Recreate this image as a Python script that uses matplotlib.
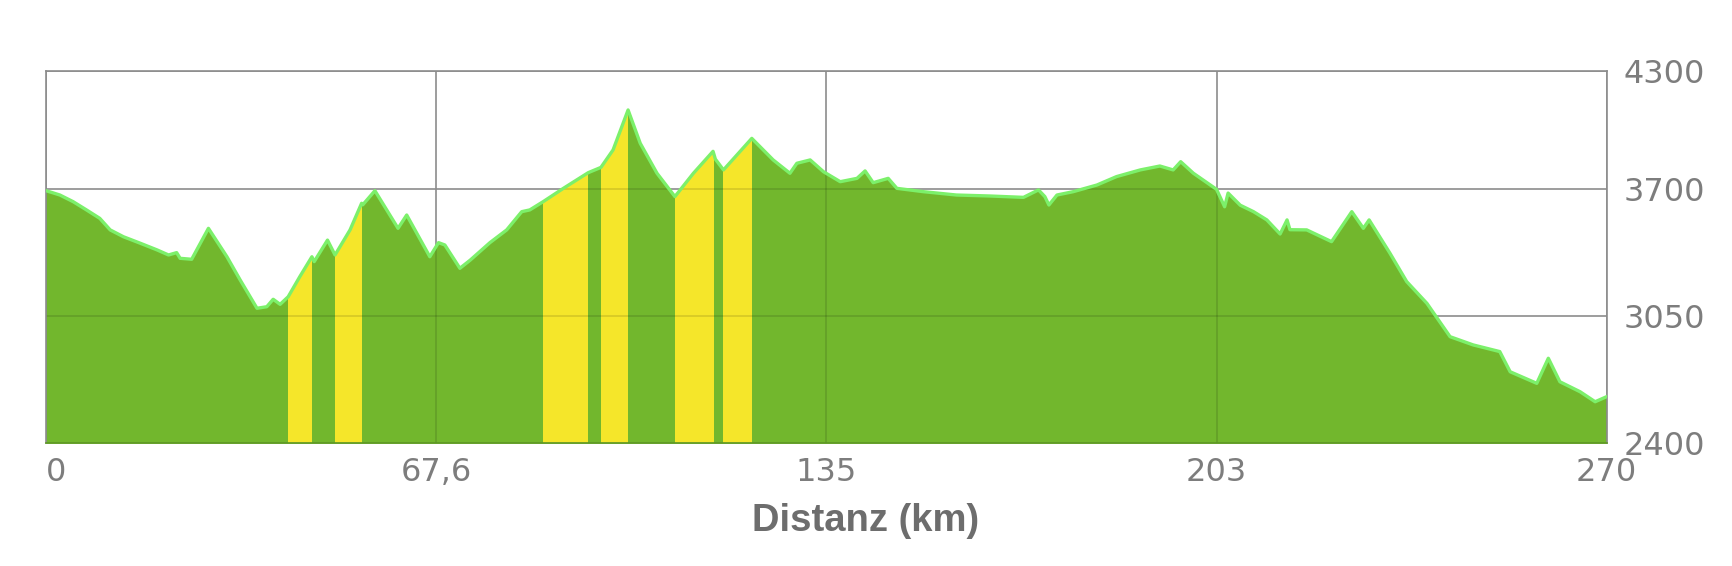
import numpy as np
import matplotlib.pyplot as plt

# elevation profile
km = [0, 1.0, 2.4, 4.7, 7.0, 9.3, 11.1, 13.4, 16.3, 19.2, 21.2, 22.6, 23.2, 25.2,
      28.1, 31.3, 33.6, 36.5, 38.2, 39.3, 40.5, 41.9, 43.9, 46.0, 46.4, 48.7,
      50.0, 52.6, 54.6, 54.8, 56.9, 60.9, 62.4, 66.4, 67.9, 69.0, 71.6, 73.4,
      76.8, 79.7, 82.3, 83.7, 86.0, 89.5, 93.8, 96.0, 98.1, 100.7, 102.8, 105.7,
      108.8, 112.0, 115.4, 115.8, 117.2, 122.1, 125.8, 128.7, 129.9, 132.2,
      134.5, 137.4, 140.3, 141.7, 143.1, 145.7, 147.2, 151.8, 157.5, 163.3,
      169.1, 171.7, 172.8, 173.5, 174.9, 177.7, 181.8, 185.2, 189.3, 192.7,
      195.0, 196.3, 198.5, 202.5, 203.9, 204.5, 206.6, 208.9, 211.2, 213.5,
      214.7, 215.2, 218.1, 222.4, 225.9, 227.9, 228.9, 232.5, 235.4, 238.9,
      242.9, 246.9, 251.5, 253.3, 257.9, 259.9, 261.9, 265.4, 268.0, 270]
elev = [3689, 3680, 3667, 3633, 3591, 3548, 3489, 3454, 3421, 3387, 3361, 3373,
        3344, 3339, 3497, 3352, 3233, 3089, 3097, 3135, 3109, 3148, 3250, 3352,
        3327, 3437, 3361, 3489, 3625, 3617, 3689, 3497, 3565, 3352, 3424, 3412,
        3293, 3335, 3424, 3489, 3582, 3591, 3633, 3701, 3781, 3808, 3897, 4101,
        3931, 3778, 3659, 3778, 3890, 3850, 3795, 3956, 3846, 3778, 3829, 3846,
        3786, 3735, 3752, 3790, 3730, 3752, 3701, 3684, 3667, 3662, 3655, 3693,
        3659, 3616, 3667, 3684, 3718, 3761, 3795, 3815, 3795, 3837, 3778, 3696,
        3607, 3677, 3615, 3582, 3540, 3468, 3540, 3490, 3489, 3429, 3582, 3497,
        3540, 3370, 3225, 3114, 2944, 2902, 2868, 2765, 2706, 2834, 2714, 2663,
        2612, 2638]

# highlighted (steep) sections, km from / to
band_start = [41.9, 50.0, 86.0, 96.0, 108.8, 117.2]
band_end = [46.0, 54.6, 93.8, 100.7, 115.5, 122.1]

xticks = [0, 67.5, 135, 202.5, 270]
xlabels = ["0", "67,6", "135", "203", "270"]
yticks = [2400, 3050, 3700, 4300]

grid_c = "#8c8c8c"
text_c = "#7d7d7d"

fig = plt.figure(figsize=(17.32, 5.66), dpi=100)
ax = fig.add_axes([0.02656, 0.2168, 0.9011, 0.6578])

ax.set_xlim(0, 270)
ax.set_ylim(2400, 4300)

area = ax.fill_between(km, 2400, elev, color="#72b72d", lw=0, zorder=1)
clip = area.get_paths()[0]
for s, e in zip(band_start, band_end):
    span = ax.axvspan(s, e, color="#f5e62a", lw=0, zorder=2)
    span.set_clip_path(clip, transform=ax.transData)

# grid: gray on white, faint dark lines where it runs under the fill
for x in xticks:
    ax.axvline(x, color=grid_c, lw=1.2, zorder=0.5)
    g = ax.axvline(x, color="black", alpha=0.13, lw=1.2, zorder=2.5)
    g.set_clip_path(clip, transform=ax.transData)
for y in yticks:
    ax.axhline(y, color=grid_c, lw=1.2, zorder=0.5)
    g = ax.axhline(y, color="black", alpha=0.13, lw=1.2, zorder=2.5)
    g.set_clip_path(clip, transform=ax.transData)

ax.plot(km, elev, color="#7cf06a", lw=2.4, zorder=3, solid_joinstyle="round")

for side in ["left", "top", "right", "bottom"]:
    ax.spines[side].set_color(grid_c)
    ax.spines[side].set_linewidth(1.2)
ax.spines["bottom"].set_color("#5f9a26")

ax.yaxis.tick_right()
ax.set_yticks(yticks)
ax.set_yticklabels([str(v) for v in yticks])
ax.set_xticks(xticks)
ax.set_xticklabels(xlabels)
ax.tick_params(axis="both", length=0, labelsize=23, colors=text_c)
ax.tick_params(axis="x", pad=10)
ax.tick_params(axis="y", pad=12)
for lab in ax.get_yticklabels():
    lab.set_ha("left")
ax.get_xticklabels()[0].set_ha("left")

fig.text(0.5, 0.0795, "Distanz (km)", ha="center", va="center",
         fontsize=27.5, fontweight="bold", color="#6d6d6d",
         family="Liberation Sans")

plt.savefig("out.png", dpi=100)
plt.close()
